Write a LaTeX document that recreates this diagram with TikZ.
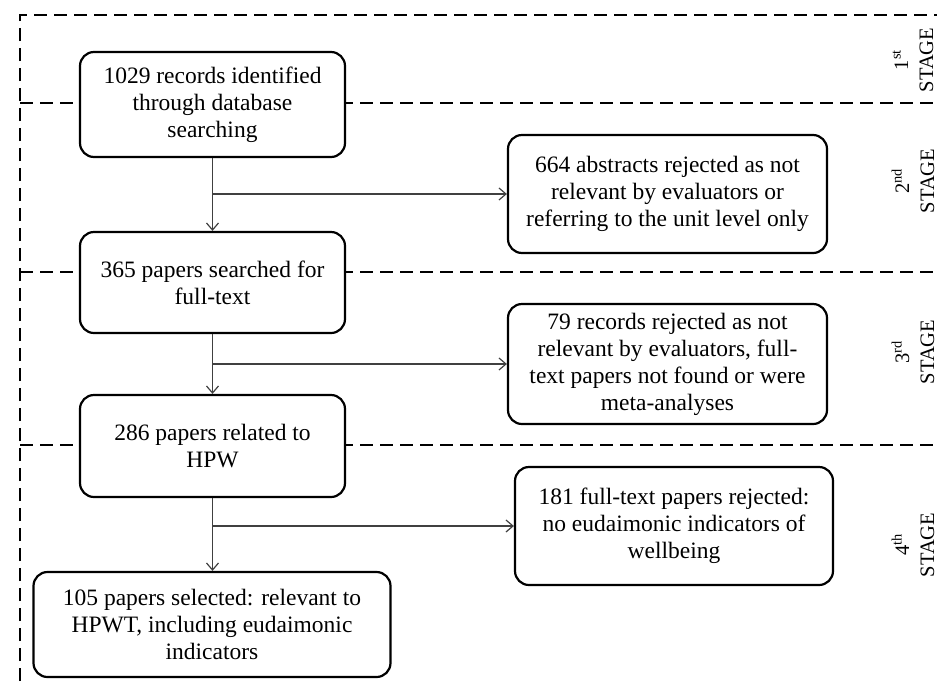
\documentclass[tikz,border=0pt]{standalone}
\usepackage{fontspec}
\setmainfont{Liberation Serif}
\usetikzlibrary{arrows.meta}
\begin{document}
\begin{tikzpicture}[x=1pt,y=-1pt,
  box/.style={draw=black, line width=2.2pt, rounded corners=14pt, fill=white,
    align=center, inner sep=0pt, font=\fontsize{23.5}{27}\selectfont},
  flow/.style={draw=black!75, line width=1.3pt, -{Straight Barb[length=7pt,width=12pt,line width=1.2pt]}},
  stageline/.style={draw=black, line width=2.8pt, dash pattern=on 13pt off 7pt},
  stagelabel/.style={rotate=90, align=center, inner sep=0pt, font=\fontsize{20.5}{25}\selectfont}]
\useasboundingbox (0,0) rectangle (937,681);
% frame
\draw[stageline] (20,681) -- (20,15) -- (937,15);
\coordinate (d1l) at (20,103);  \coordinate (d1r) at (937,103);
\coordinate (d2l) at (20,272);  \coordinate (d2r) at (937,272);
\coordinate (d3l) at (20,445);  \coordinate (d3r) at (937,445);
\draw[stageline] (d1l) -- (d1r);
\draw[stageline] (d2l) -- (d2r);
\draw[stageline] (d3l) -- (d3r);
% boxes
\node[box, minimum width=265pt, minimum height=105pt] (b1) at (212.5,104.5) {1029 records identified\\through database\\searching};
\node[box, minimum width=265pt, minimum height=101pt] (b2) at (212.5,282.5) {365 papers searched for\\full-text};
\node[box, minimum width=265pt, minimum height=102pt] (b3) at (212.5,446) {286 papers related to\\HPW};
\node[box, minimum width=357pt, minimum height=105pt] (b4) at (212,624.5) {105 papers selected: relevant to\\HPWT, including eudaimonic\\indicators};
\node[box, minimum width=319pt, minimum height=118pt] (r1) at (667.5,194) {664 abstracts rejected as not\\relevant by evaluators or\\referring to the unit level only};
\node[box, minimum width=319pt, minimum height=120pt] (r2) at (667.5,364) {79 records rejected as not\\relevant by evaluators, full-\\text papers not found or were\\meta-analyses};
\node[box, minimum width=318pt, minimum height=118pt] (r3) at (674,526) {181 full-text papers rejected:\\no eudaimonic indicators of\\wellbeing};
% connectors
\draw[flow] (b1.south) -- (b1.south |- b2.north);
\draw[flow] (b1.south |- r1.west) -- (r1.west);
\draw[flow] (b2.south) -- (b2.south |- b3.north);
\draw[flow] (b2.south |- r2.west) -- (r2.west);
\draw[flow] (b3.south) -- (b3.south |- b4.north);
\draw[flow] (b3.south |- r3.west) -- (r3.west);
% stage labels
\node[stagelabel] (s1) at (913,60) {1\textsuperscript{st}\\STAGE};
\node[stagelabel] (s2) at (913,181) {2\textsuperscript{nd}\\STAGE};
\node[stagelabel] (s3) at (913,352) {3\textsuperscript{rd}\\STAGE};
\node[stagelabel] (s4) at (913,545) {4\textsuperscript{th}\\STAGE};
\end{tikzpicture}
\end{document}
